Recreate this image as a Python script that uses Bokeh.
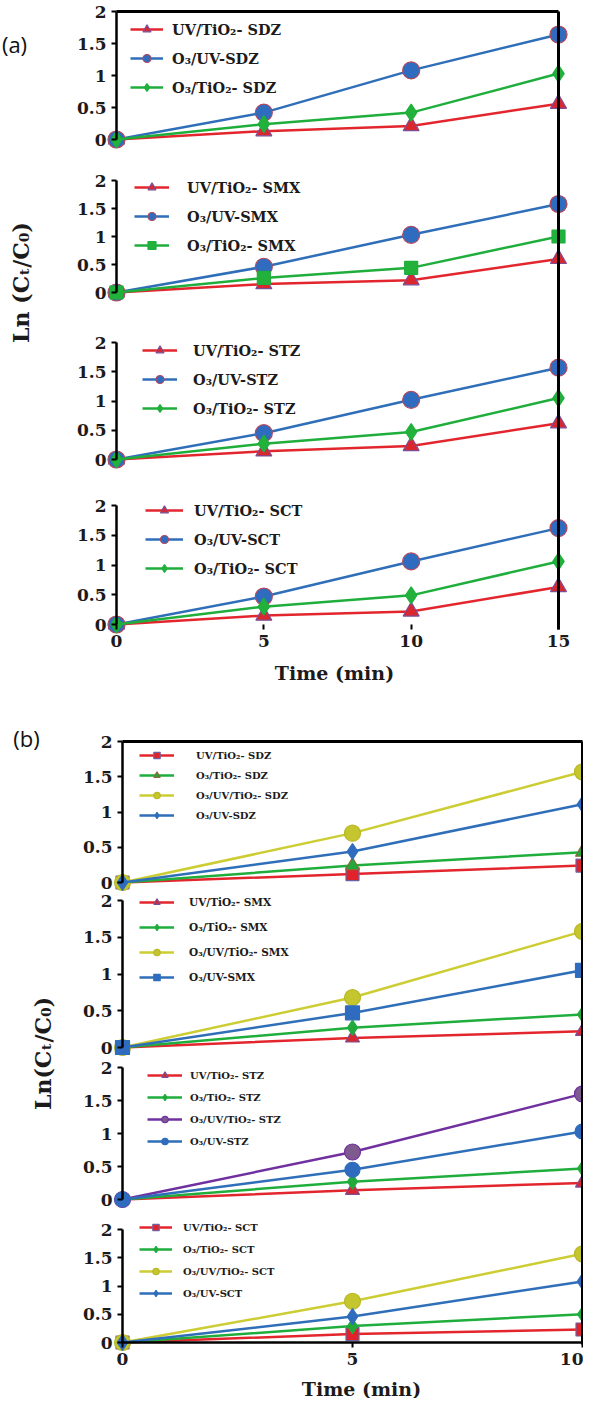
import math
from bokeh.plotting import figure
from bokeh.models import (Range1d, LinearAxis, FixedTicker, NumeralTickFormatter,
                          Legend, LegendItem, Label)
from bokeh.core.properties import value
from bokeh.layouts import column
from bokeh.embed import file_html
from bokeh.resources import INLINE

# ---------------- data ----------------
time_a = [0, 5, 10, 15]
time_b = [0, 5, 10]
y_ticks = [0, 0.5, 1, 1.5, 2]
x_ticks_a = [0, 5, 10, 15]
x_ticks_b = [0, 5, 10]

# panel (a)
a_sdz_uv_tio2 = [0, 0.13, 0.21, 0.56]
a_sdz_o3_uv = [0, 0.42, 1.08, 1.64]
a_sdz_o3_tio2 = [0, 0.24, 0.42, 1.03]
a_smx_uv_tio2 = [0, 0.15, 0.22, 0.60]
a_smx_o3_uv = [0, 0.46, 1.03, 1.58]
a_smx_o3_tio2 = [0, 0.26, 0.44, 1.00]
a_stz_uv_tio2 = [0, 0.14, 0.23, 0.62]
a_stz_o3_uv = [0, 0.45, 1.02, 1.57]
a_stz_o3_tio2 = [0, 0.27, 0.47, 1.05]
a_sct_uv_tio2 = [0, 0.15, 0.22, 0.63]
a_sct_o3_uv = [0, 0.47, 1.06, 1.62]
a_sct_o3_tio2 = [0, 0.30, 0.49, 1.06]

# panel (b)
b_sdz_uv_tio2 = [0, 0.12, 0.24]
b_sdz_o3_tio2 = [0, 0.24, 0.43]
b_sdz_o3_uv_tio2 = [0, 0.70, 1.57]
b_sdz_o3_uv = [0, 0.44, 1.11]
b_smx_uv_tio2 = [0, 0.13, 0.22]
b_smx_o3_tio2 = [0, 0.27, 0.45]
b_smx_o3_uv_tio2 = [0, 0.68, 1.58]
b_smx_o3_uv = [0, 0.47, 1.05]
b_stz_uv_tio2 = [0, 0.14, 0.25]
b_stz_o3_tio2 = [0, 0.27, 0.47]
b_stz_o3_uv_tio2 = [0, 0.72, 1.60]
b_stz_o3_uv = [0, 0.45, 1.03]
b_sct_uv_tio2 = [0, 0.15, 0.23]
b_sct_o3_tio2 = [0, 0.29, 0.50]
b_sct_o3_uv_tio2 = [0, 0.73, 1.57]
b_sct_o3_uv = [0, 0.46, 1.08]

labels_a_sdz = ["UV/TiO₂- SDZ", "O₃/UV-SDZ", "O₃/TiO₂- SDZ"]
labels_a_smx = ["UV/TiO₂- SMX", "O₃/UV-SMX", "O₃/TiO₂- SMX"]
labels_a_stz = ["UV/TiO₂- STZ", "O₃/UV-STZ", "O₃/TiO₂- STZ"]
labels_a_sct = ["UV/TiO₂- SCT", "O₃/UV-SCT", "O₃/TiO₂- SCT"]
labels_b_sdz = ["UV/TiO₂- SDZ", "O₃/TiO₂- SDZ", "O₃/UV/TiO₂- SDZ", "O₃/UV-SDZ"]
labels_b_smx = ["UV/TiO₂- SMX", "O₃/TiO₂- SMX", "O₃/UV/TiO₂- SMX", "O₃/UV-SMX"]
labels_b_stz = ["UV/TiO₂- STZ", "O₃/TiO₂- STZ", "O₃/UV/TiO₂- STZ", "O₃/UV-STZ"]
labels_b_sct = ["UV/TiO₂- SCT", "O₃/TiO₂- SCT", "O₃/UV/TiO₂- SCT", "O₃/UV-SCT"]

# ---------------- styles ----------------
W = 583
SERIF = "DejaVu Serif"
INK = "#1c1a1a"
RED, BLUE, GREEN, YELLOW, PURPLE = "#e3262d", "#2f6eb8", "#1fae3c", "#cccc33", "#7030a0"


def st(color, marker, fill, outline, size):
    return dict(color=color, marker=marker, fill=fill, outline=outline, size=size)


A_RED_TRI = st(RED, "triangle", "#d9262f", "#7a4f96", 16)
A_BLUE_CIR = st(BLUE, "circle", "#2f6cc0", "#b5485a", 17)
A_GREEN_DIA = st(GREEN, "diamond", "#22b23c", GREEN, 17)
A_GREEN_SQ = st(GREEN, "square", "#22b23c", GREEN, 13)
B_RED_SQ = st(RED, "square", "#e2222a", "#7060a0", 13)
B_RED_TRI = st(RED, "triangle", "#d9262f", "#7a4f96", 14)
B_GREEN_TRI = st(GREEN, "triangle", "#22a83a", "#8b6a3b", 14)
B_GREEN_DIA = st(GREEN, "diamond", "#23a83c", GREEN, 15)
B_YEL_CIR = st(YELLOW, "circle", "#c5c52e", "#b8b82a", 16)
B_PUR_CIR = st(PURPLE, "circle", "#7e5a8e", PURPLE, 16)
B_BLUE_DIA = st(BLUE, "diamond", "#2f6cc0", BLUE, 16)
B_BLUE_SQ = st(BLUE, "square", "#2f6cc0", BLUE, 14)
B_BLUE_CIR = st(BLUE, "circle", "#2f6cc0", BLUE, 15)


def style_axis(ax, size="17px"):
    ax.axis_line_color = "black"
    ax.axis_line_width = 2.5
    ax.major_tick_line_color = "black"
    ax.major_tick_line_width = 2
    ax.major_tick_in = 0
    ax.major_tick_out = 5
    ax.minor_tick_line_color = None
    ax.major_label_text_font = SERIF
    ax.major_label_text_font_style = "bold"
    ax.major_label_text_font_size = size
    ax.major_label_text_color = INK
    ax.major_label_standoff = 5


def line_axis(ax):
    ax.axis_line_color = "black"
    ax.axis_line_width = 3
    ax.major_tick_line_color = None
    ax.minor_tick_line_color = None
    ax.major_label_text_alpha = 0


def panel(H, px0, px_end, t_end, times, x_ticks, subs, frame_top, frame_bottom,
          bottom_line, tag, tag_xy, ylab, ylab_xy, xlab_xy):
    k = (px_end - px0) / t_end
    xr = Range1d(-px0 / k, t_end + (W - px_end) / k)
    p = figure(width=W, height=H, x_range=xr, y_range=Range1d(0, H),
               x_axis_type=None, y_axis_type=None, output_backend="svg",
               toolbar_location=None, min_border=0)
    p.outline_line_color = None
    p.background_fill_color = "white"
    p.border_fill_color = "white"

    ranges = {}
    for i, sp in enumerate(subs):
        t, z = sp["px"]
        ky = (z - t) / 2.0
        ranges[f"s{i}"] = Range1d(-(H - z) / ky, 2 + t / ky)
    p.extra_y_ranges = ranges

    # right border line and top border line
    rl = LinearAxis(fixed_location=t_end, bounds=(H - frame_bottom, H - frame_top),
                    ticker=FixedTicker(ticks=[]))
    line_axis(rl)
    p.add_layout(rl, "right")
    tl = LinearAxis(y_range_name="s0", fixed_location=2, bounds=(0, t_end),
                    ticker=FixedTicker(ticks=[]))
    line_axis(tl)
    p.add_layout(tl, "above")

    for i, sp in enumerate(subs):
        name = f"s{i}"
        ax = LinearAxis(y_range_name=name, fixed_location=0, bounds=(0, 2),
                        ticker=FixedTicker(ticks=y_ticks),
                        formatter=NumeralTickFormatter(format="0.[0]"))
        style_axis(ax)
        p.add_layout(ax, "left")

        items = []
        for lab, ys, s in zip(sp["labels"], sp["series"], sp["styles"]):
            ln = p.line(times, ys, y_range_name=name, line_color=s["color"], line_width=2.5)
            mk = p.scatter(times, ys, y_range_name=name, marker=s["marker"], size=s["size"],
                           fill_color=s["fill"], line_color=s["outline"], line_width=1.2)
            items.append(LegendItem(label=value(lab), renderers=[ln, mk]))
        lg = sp["legend"]
        n = len(items)
        L = n * lg["gh"] + (n - 1) * lg["sp"]
        leg = Legend(items=items, location=(lg["x"], H - lg["top"] - L),
                     glyph_width=lg["gw"], glyph_height=lg["gh"], label_height=lg["gh"],
                     spacing=lg["sp"], padding=0, margin=0, label_standoff=lg["so"],
                     border_line_color=None, background_fill_alpha=0,
                     label_text_font=SERIF, label_text_font_style="bold",
                     label_text_font_size=lg["fs"], label_text_color=INK)
        p.add_layout(leg, "center")

    bl = LinearAxis(y_range_name=f"s{len(subs) - 1}", fixed_location=0, bounds=(0, t_end),
                    ticker=FixedTicker(ticks=x_ticks))
    style_axis(bl, "17px")
    bl.major_label_standoff = 5
    if not bottom_line:
        bl.axis_line_color = None
    p.add_layout(bl, "below")

    def dx(px):
        return xr.start + px / k

    p.add_layout(Label(x=dx(tag_xy[0]), y=H - tag_xy[1], text=tag, text_align="center",
                       text_baseline="middle", text_font="Open Sans",
                       text_font_size="22px", text_color="#111111"))
    p.add_layout(Label(x=dx(ylab_xy[0]), y=H - ylab_xy[1], text=ylab, angle=math.pi / 2,
                       text_align="center", text_baseline="middle", text_font=SERIF,
                       text_font_style="bold", text_font_size="22px", text_color=INK))
    p.add_layout(Label(x=dx(xlab_xy[0]), y=H - xlab_xy[1], text="Time (min)",
                       text_align="center", text_baseline="middle", text_font=SERIF,
                       text_font_style="bold", text_font_size="19px", text_color=INK))
    return p


def leg(x, top, gh, sp, gw, so, fs):
    return dict(x=x, top=top, gh=gh, sp=sp, gw=gw, so=so, fs=fs)


subs_a = [
    dict(px=(11, 139), labels=labels_a_sdz,
         series=[a_sdz_uv_tio2, a_sdz_o3_uv, a_sdz_o3_tio2],
         styles=[A_RED_TRI, A_BLUE_CIR, A_GREEN_DIA], legend=leg(130, 19, 20, 9, 33, 9, "14.5px")),
    dict(px=(180, 292), labels=labels_a_smx,
         series=[a_smx_uv_tio2, a_smx_o3_uv, a_smx_o3_tio2],
         styles=[A_RED_TRI, A_BLUE_CIR, A_GREEN_SQ], legend=leg(134, 177, 20, 9, 35, 18, "14.5px")),
    dict(px=(342, 459), labels=labels_a_stz,
         series=[a_stz_uv_tio2, a_stz_o3_uv, a_stz_o3_tio2],
         styles=[A_RED_TRI, A_BLUE_CIR, A_GREEN_DIA], legend=leg(142, 340, 20, 9, 35, 16, "14.5px")),
    dict(px=(505, 624), labels=labels_a_sct,
         series=[a_sct_uv_tio2, a_sct_o3_uv, a_sct_o3_tio2],
         styles=[A_RED_TRI, A_BLUE_CIR, A_GREEN_DIA], legend=leg(145, 500, 20, 9, 38, 11, "14.5px")),
]

subs_b = [
    dict(px=(49, 190), labels=labels_b_sdz,
         series=[b_sdz_uv_tio2, b_sdz_o3_tio2, b_sdz_o3_uv_tio2, b_sdz_o3_uv],
         styles=[B_RED_SQ, B_GREEN_TRI, B_YEL_CIR, B_BLUE_DIA], legend=leg(139, 55, 16, 4, 35, 22, "10px")),
    dict(px=(208, 355), labels=labels_b_smx,
         series=[b_smx_uv_tio2, b_smx_o3_tio2, b_smx_o3_uv_tio2, b_smx_o3_uv],
         styles=[B_RED_TRI, B_GREEN_DIA, B_YEL_CIR, B_BLUE_SQ], legend=leg(139, 202, 16, 9, 35, 15, "10.5px")),
    dict(px=(375, 507), labels=labels_b_stz,
         series=[b_stz_uv_tio2, b_stz_o3_tio2, b_stz_o3_uv_tio2, b_stz_o3_uv],
         styles=[B_RED_TRI, B_GREEN_DIA, B_PUR_CIR, B_BLUE_CIR], legend=leg(147, 375, 16, 6, 35, 8, "10px")),
    dict(px=(537, 650), labels=labels_b_sct,
         series=[b_sct_uv_tio2, b_sct_o3_tio2, b_sct_o3_uv_tio2, b_sct_o3_uv],
         styles=[B_RED_SQ, B_GREEN_DIA, B_YEL_CIR, B_BLUE_DIA], legend=leg(139, 527, 16, 6, 33, 11, "10px")),
]

pa = panel(692, 116, 558, 15, time_a, x_ticks_a, subs_a, 11, 629, False,
           "(a)", (14, 43), "Ln (Cₜ/C₀)", (20, 282), (334, 672))
pb = panel(706, 122, 582, 10, time_b, x_ticks_b, subs_b, 49, 652, True,
           "(b)", (26, 45), "Ln(Cₜ/C₀)", (42, 361), (361, 696))

layout = column(pa, pb, spacing=0)
open("out.html", "w").write(file_html(layout, INLINE))
